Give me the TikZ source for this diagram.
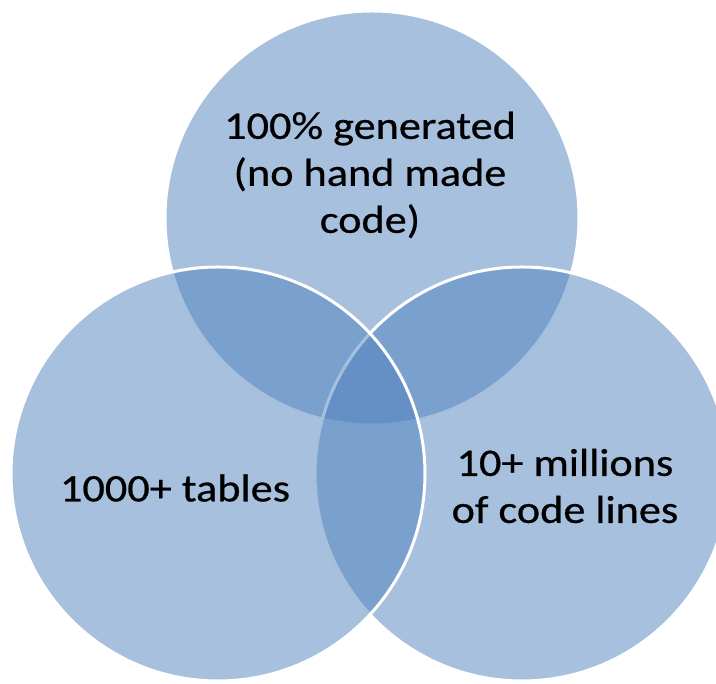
\documentclass[tikz,border=0pt]{standalone}
\usepackage{fontspec}
\setmainfont{Carlito}[FakeStretch=1.135,FakeBold=0.6]
\definecolor{accentblue}{HTML}{4F81BD}
\begin{document}
\begin{tikzpicture}[x=1pt,y=1pt,
  venn/.style={circle, draw=white, line width=3pt, fill=accentblue, fill opacity=0.5, draw opacity=1, minimum size=414pt, inner sep=0pt},
  label/.style={align=center, text=black, font=\fontsize{39}{47}\selectfont}]
\useasboundingbox (0,0) rectangle (716,684);
\node[venn] (top) at (372,466) {};
\node[venn] (right) at (522,210) {};
\node[venn] (left) at (218,210) {};
\node[label] (ttop) at (370,509) {100\% generated\\(no hand made\\code)};
\node[label] (tleft) at (175,196) {1000+ tables};
\node[label] (tright) at (565,198) {10+ millions\\of code lines};
\end{tikzpicture}
\end{document}
